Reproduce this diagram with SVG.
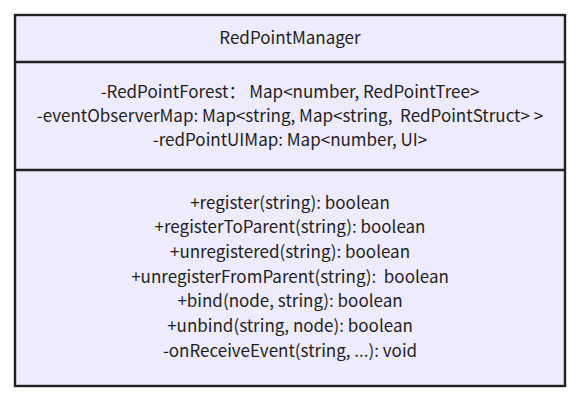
<svg xmlns="http://www.w3.org/2000/svg" width="580" height="401" viewBox="0 0 580 401">
<style>
.box{fill:#EEEBFE;stroke:#222;stroke-width:2.4}
.div{stroke:#222;stroke-width:2.4}
text{font-family:"Noto Sans CJK SC","Noto Sans",sans-serif;font-size:17px;fill:#1e1e1e;text-anchor:middle}
</style>
<rect x="0" y="0" width="580" height="401" fill="#ffffff"/>
<g id="RedPointManager">
<rect class="box" x="15" y="15" width="550" height="371"/>
<line class="div" x1="15" y1="62" x2="565" y2="62"/>
<line class="div" x1="15" y1="170" x2="565" y2="170"/>
<text x="290" y="44">RedPointManager</text>
<text x="290" y="97.5" xml:space="preserve">-RedPointForest： Map&lt;number, RedPointTree&gt;</text>
<text x="290" y="121.5" xml:space="preserve">-eventObserverMap: Map&lt;string, Map&lt;string,  RedPointStruct&gt; &gt;</text>
<text x="290" y="145.5">-redPointUIMap: Map&lt;number, UI&gt;</text>
<text x="290" y="208.5">+register(string): boolean</text>
<text x="290" y="233.2">+registerToParent(string): boolean</text>
<text x="290" y="257.9">+unregistered(string): boolean</text>
<text x="290" y="282.6" xml:space="preserve">+unregisterFromParent(string):  boolean</text>
<text x="290" y="307.3">+bind(node, string): boolean</text>
<text x="290" y="332">+unbind(string, node): boolean</text>
<text x="290" y="356.7">-onReceiveEvent(string, ...): void</text>
</g>
</svg>
